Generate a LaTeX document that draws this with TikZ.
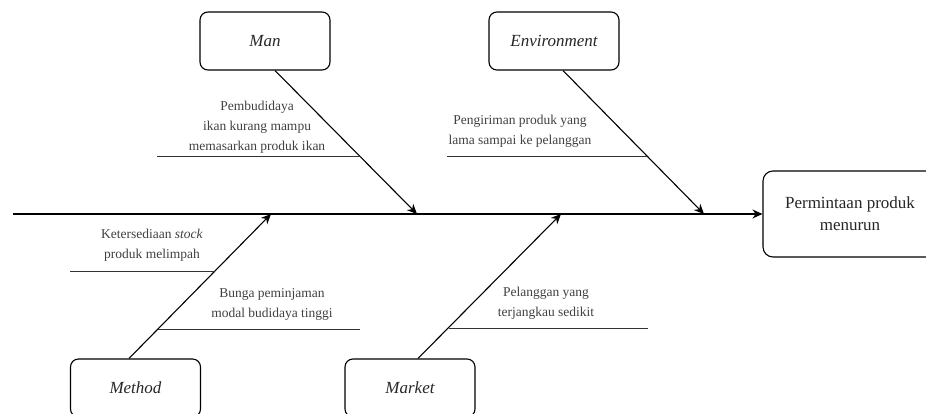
\documentclass[tikz,border=0pt]{standalone}
\usepackage{fontspec}
\setmainfont{Liberation Serif}
\usetikzlibrary{arrows.meta}

\tikzset{
  catbox/.style={draw,rounded corners=8pt,line width=1.1pt,minimum width=130pt,minimum height=58pt,
    text=black!85,font=\fontsize{17}{20}\selectfont\itshape},
  effbox/.style={draw,rounded corners=10pt,line width=1.1pt,minimum width=174pt,minimum height=86pt,
    align=center,text=black!85,font=\fontsize{17}{22}\selectfont},
  cause/.style={align=center,text=black!75,font=\fontsize{13.5}{20}\selectfont},
  rib/.style={line width=1.1pt,-{Stealth[length=10pt,width=9pt]}},
  subline/.style={line width=0.9pt,black!80}
}

\begin{document}
\begin{tikzpicture}[x=1pt,y=-1pt]
    \useasboundingbox (0,0) rectangle (926,414);
    \clip (0,0) rectangle (926,414);

    % effect and spine
    \node[effbox] (effect) at (850,214) {Permintaan produk\\menurun};
    \coordinate (tail) at (13,214);
    \draw[rib] (tail) -- (effect.west);

    % categories
    \foreach \nm/\lab/\x/\y in {man/Man/265/41,env/Environment/554/41,
        method/Method/135.5/388,market/Market/410/388}
    {\node[catbox] (\nm) at (\x,\y) {\lab};}

    \foreach \nm/\an/\dx/\tx in {man/south/10/417,env/south/9/704,
        method/north/-6.5/271,market/north/8/561}
    {\coordinate (\nm tip) at (\tx,214);
     \draw[rib] ([xshift=\dx pt]\nm.\an) -- (\nm tip);}

    % causes
    \node[cause] (c1) at (257,127) {Pembudidaya\\ikan kurang mampu\\memasarkan produk ikan};
    \node[cause] (c2) at (520,131) {Pengiriman produk yang\\lama sampai ke pelanggan};
    \node[cause] (c3) at (152,245) {Ketersediaan \textit{stock}\\produk melimpah};
    \node[cause] (c4) at (272,304) {Bunga peminjaman\\modal budidaya tinggi};
    \node[cause] (c5) at (546,303) {Pelanggan yang\\terjangkau sedikit};

    \foreach \nm/\xa/\xb/\y in {c1/157/361/156,c2/447/647/156,c3/70/215/271,
        c4/158/360/329,c5/449/648/328}
    {\coordinate (\nm a) at (\xa,\y);
     \coordinate (\nm b) at (\xb,\y);
     \draw[subline] (\nm a) -- (\nm b);}

\end{tikzpicture}
\end{document}
